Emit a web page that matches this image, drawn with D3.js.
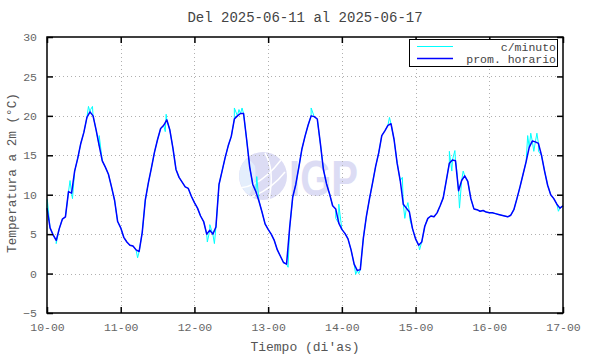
<!DOCTYPE html>
<html>
<head>
<meta charset="utf-8">
<script src="https://cdn.jsdelivr.net/npm/d3@7"></script>
<style>
  body { margin: 0; background: #fff; }
  text { font-family: "Liberation Mono", "DejaVu Sans Mono", monospace; }
</style>
</head>
<body>
<div id="chart"></div>
<script>
// hourly averages (prom. horario), one value per hour from 2025-06-10 00:00 to 2025-06-17 00:00
var startDay = Date.UTC(2025, 5, 10);
var hourlyTemp = [
  8.3, 5.8, 4.9, 4.2, 5.7, 6.9, 7.2, 10.4, 10.2, 13.0, 14.6, 16.5, 17.9, 19.8, 20.5, 20.0, 18.2, 16.2, 14.3, 13.5, 12.6, 11.0, 9.3, 6.6,
  5.8, 4.6, 4.0, 3.6, 3.5, 3.0, 2.8, 5.2, 9.3, 11.5, 13.4, 15.4, 17.0, 18.4, 18.8, 19.5, 18.2, 15.9, 13.2, 12.2, 11.6, 11.0, 10.8, 9.8,
  9.0, 8.3, 7.3, 6.6, 5.0, 5.5, 5.0, 5.9, 11.3, 13.0, 14.7, 16.2, 17.4, 19.6, 20.0, 20.3, 20.3, 17.0, 13.5, 11.3, 10.4, 9.2, 7.8, 6.3,
  5.6, 5.0, 4.2, 3.0, 2.2, 1.4, 1.2, 5.8, 9.7, 11.3, 13.5, 15.8, 17.4, 18.8, 20.0, 19.9, 19.6, 16.5, 13.2, 11.4, 10.1, 8.6, 8.2, 6.4,
  5.6, 5.1, 4.4, 3.0, 1.2, 0.4, 0.5, 4.5, 7.3, 9.5, 11.5, 13.6, 15.3, 17.5, 18.1, 18.8, 19.0, 17.0, 14.0, 11.8, 8.8, 8.3, 7.8, 5.7,
  4.4, 3.6, 4.0, 6.0, 7.0, 7.3, 7.2, 7.7, 8.6, 9.6, 11.8, 14.0, 14.4, 14.3, 10.5, 11.8, 12.4, 11.7, 9.5, 8.2, 8.1, 7.9, 8.0, 7.8,
  7.7, 7.7, 7.6, 7.5, 7.4, 7.3, 7.2, 7.4, 8.1, 9.5, 11.0, 12.6, 14.2, 16.0, 16.8, 16.7, 16.5, 15.0, 13.0, 11.2, 10.0, 9.5, 8.8, 8.3,
  8.6
];

// per-minute readings (c/minuto) that stick out of the hourly line: hours since start, value
var minuteHours = [0.1, 3.0, 7.5, 8.3, 13.5, 14.2, 14.8, 17.0, 29.5, 38.5, 38.8, 52.2, 53.0, 54.5,
  61.0, 62.5, 63.5, 68.3, 78.5, 86.0, 94.0, 95.0, 100.5, 101.5, 111.5, 115.7, 116.5, 117.5, 118.2,
  121.3, 131.0, 131.8, 132.8, 133.3, 134.3, 135.5, 156.5, 157.5, 158.5, 159.5, 160.0, 166.5];
var minuteTemps = [9.4, 3.8, 11.8, 9.5, 21.2, 20.8, 21.2, 17.5, 2.0, 18.0, 20.2, 4.0, 6.2, 3.8,
  21.0, 20.8, 21.0, 12.3, 0.8, 21.0, 7.0, 8.8, -0.1, 0.0, 19.8, 12.2, 7.0, 9.0, 6.8,
  3.0, 15.5, 13.0, 15.6, 13.5, 8.3, 13.0, 17.5, 17.8, 15.5, 17.8, 15.5, 7.9];

var yTicks = [-5, 0, 5, 10, 15, 20, 25, 30];
var xTickLabels = ["10-00", "11-00", "12-00", "13-00", "14-00", "15-00", "16-00", "17-00"];
var seriesNames = ["c/minuto", "prom. horario"];
var seriesColors = ["#00ffff", "#0000ff"];

var width = 590, height = 354;
var margin = {top: 37, right: 27, bottom: 41, left: 47};

var svg = d3.select("#chart").append("svg")
  .attr("width", width)
  .attr("height", height);

var hour = 3600 * 1000;
var x = d3.scaleUtc()
  .domain([new Date(startDay), new Date(startDay + 7 * 24 * hour)])
  .range([margin.left, width - margin.right]);
var y = d3.scaleLinear()
  .domain([-5, 30])
  .range([height - margin.bottom, margin.top]);

var dayTicks = d3.range(8).map(function(d) { return new Date(startDay + d * 24 * hour); });

// watermark (IGP)
var wm = svg.append("g").attr("class", "watermark");
wm.append("circle").attr("cx", 263).attr("cy", 176).attr("r", 24).attr("fill", "#dcdcf4");
wm.append("path")
  .attr("d", "M246,159 A24,24 0 0,0 249,195 Q257,182 255,166 Q251,160 246,159 Z")
  .attr("fill", "#e4eefc");
wm.append("path").attr("d", "M240,188 Q261,186 281,160").attr("fill", "none").attr("stroke", "#fff").attr("stroke-width", 1.5);
wm.append("path").attr("d", "M249,198 Q271,190 285,172").attr("fill", "none").attr("stroke", "#fff").attr("stroke-width", 1.5);
wm.append("path").attr("d", "M265,153 Q275,170 269,199").attr("fill", "none").attr("stroke", "#fff").attr("stroke-width", 1.5);
wm.append("text")
  .attr("x", 289).attr("y", 196)
  .attr("textLength", 69).attr("lengthAdjust", "spacingAndGlyphs")
  .style("font-family", "Liberation Sans, Arial, sans-serif")
  .style("font-weight", "bold").style("font-size", "50px")
  .attr("fill", "#dcdcf4")
  .text("IGP");

// grid
var grid = svg.append("g").attr("stroke", "#b0b0b0").attr("stroke-width", 1).attr("stroke-dasharray", "1,3");
grid.selectAll(".gx").data(dayTicks.slice(1, 7)).enter().append("line")
  .attr("x1", function(d) { return Math.round(x(d)) + 0.5; })
  .attr("x2", function(d) { return Math.round(x(d)) + 0.5; })
  .attr("y1", margin.top).attr("y2", height - margin.bottom);
grid.selectAll(".gy").data(yTicks.slice(1, 7)).enter().append("line")
  .attr("y1", function(d) { return Math.round(y(d)) + 0.5; })
  .attr("y2", function(d) { return Math.round(y(d)) + 0.5; })
  .attr("x1", margin.left).attr("x2", width - margin.right);

// series
var hourlyPoints = hourlyTemp.map(function(v, i) { return {t: new Date(startDay + i * hour), v: v}; });
var minutePoints = hourlyPoints.concat(minuteHours.map(function(h, i) {
  return {t: new Date(startDay + h * hour), v: minuteTemps[i]};
})).sort(function(a, b) { return a.t - b.t; });

var line = d3.line()
  .x(function(d) { return x(d.t); })
  .y(function(d) { return y(d.v); });

svg.append("path").datum(minutePoints)
  .attr("fill", "none").attr("stroke", seriesColors[0]).attr("stroke-width", 1)
  .attr("d", line);
svg.append("path").datum(hourlyPoints)
  .attr("fill", "none").attr("stroke", seriesColors[1]).attr("stroke-width", 1.5)
  .attr("stroke-linejoin", "round")
  .attr("d", line);

// axes
var xAxis = d3.axisBottom(x).tickValues(dayTicks)
  .tickSizeInner(-6).tickSizeOuter(0).tickPadding(10)
  .tickFormat(function(d, i) { return xTickLabels[i]; });
var gx = svg.append("g").attr("transform", "translate(0," + (height - margin.bottom) + ")").call(xAxis);
var yAxis = d3.axisLeft(y).tickValues(yTicks)
  .tickSizeInner(-6).tickSizeOuter(0).tickPadding(10);
var gy = svg.append("g").attr("transform", "translate(" + margin.left + ",0)").call(yAxis);
var gxTop = svg.append("g").attr("transform", "translate(0," + margin.top + ")")
  .call(d3.axisTop(x).tickValues(dayTicks).tickSizeInner(-6).tickSizeOuter(0).tickFormat(""));
var gyRight = svg.append("g").attr("transform", "translate(" + (width - margin.right) + ",0)")
  .call(d3.axisRight(y).tickValues(yTicks).tickSizeInner(-6).tickSizeOuter(0).tickFormat(""));

[gx, gy, gxTop, gyRight].forEach(function(g) {
  g.select(".domain").remove();
  g.selectAll(".tick line").attr("stroke", "#000").attr("stroke-width", 1.5);
  g.selectAll(".tick text").attr("fill", "#666")
    .style("font-family", "Liberation Mono, monospace").style("font-size", "11.5px");
});

// frame
svg.append("rect")
  .attr("x", margin.left).attr("y", margin.top)
  .attr("width", width - margin.left - margin.right)
  .attr("height", height - margin.top - margin.bottom)
  .attr("fill", "none").attr("stroke", "#000").attr("stroke-width", 1.5);

// legend
var legend = svg.append("g");
legend.append("rect")
  .attr("x", 409.5).attr("y", 39.5).attr("width", 148).attr("height", 27)
  .attr("fill", "#fff").attr("stroke", "#000").attr("stroke-width", 1);
seriesNames.forEach(function(name, i) {
  var ly = 46.5 + i * 12;
  legend.append("line")
    .attr("x1", 417).attr("x2", 453).attr("y1", ly).attr("y2", ly)
    .attr("stroke", seriesColors[i]).attr("stroke-width", i === 0 ? 1 : 1.5);
  legend.append("text")
    .attr("x", 556).attr("y", ly + 4)
    .attr("text-anchor", "end").attr("fill", "#444")
    .style("font-size", "11.5px")
    .text(name);
});

// titles
svg.append("text")
  .attr("x", 305).attr("y", 22).attr("text-anchor", "middle")
  .attr("fill", "#444").style("font-size", "14px")
  .text("Del 2025-06-11 al 2025-06-17");
svg.append("text")
  .attr("x", 305).attr("y", 351).attr("text-anchor", "middle")
  .attr("fill", "#555").style("font-size", "13px")
  .text("Tiempo (di'as)");
svg.append("text")
  .attr("transform", "translate(16," + 173 + ") rotate(-90)")
  .attr("text-anchor", "middle")
  .attr("fill", "#555").style("font-size", "12.7px")
  .text("Temperatura a 2m (°C)");
</script>
</body>
</html>
